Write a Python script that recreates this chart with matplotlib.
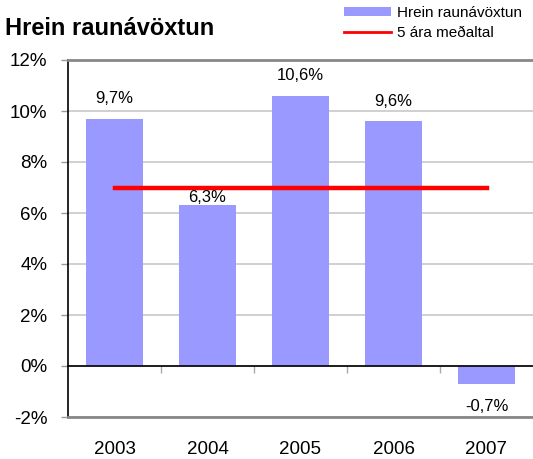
import matplotlib
matplotlib.use("Agg")
from matplotlib import pyplot as plt
from matplotlib.patches import Patch
from matplotlib.lines import Line2D

plt.rcParams['font.family'] = ['Liberation Sans', 'DejaVu Sans']

# data
years = ['2003', '2004', '2005', '2006', '2007']
returns = [9.7, 6.3, 10.6, 9.6, -0.7]
avg_5yr = [7.0, 7.0, 7.0, 7.0, 7.0]
value_labels = ['9,7%', '6,3%', '10,6%', '9,6%', '-0,7%']
yticks = [-2, 0, 2, 4, 6, 8, 10, 12]

bar_color = '#9999FF'
grid_color = '#C8C8C8'

fig = plt.figure(figsize=(5.33, 4.59), dpi=100)
ax = fig.add_axes([68 / 533, 42 / 459, 1 - 68 / 533, 357 / 459])

x = range(len(years))
ax.bar(x, returns, width=0.62, color=bar_color, zorder=2)
ax.plot(x, avg_5yr, color='#FF0000', lw=3.2, solid_capstyle='projecting', zorder=3)

# labels on the bars
for i, (v, lab) in enumerate(zip(returns, value_labels)):
    if v >= 0:
        dy = 0 if i == 1 else 9
        ax.annotate(lab, (i, v), xytext=(0, dy), textcoords='offset points',
                    ha='center', va='bottom', fontsize=12, zorder=4)
    else:
        ax.annotate(lab, (i, v), xytext=(0, -11), textcoords='offset points',
                    ha='center', va='top', fontsize=12, zorder=4)

ax.set_xlim(-0.5, 4.5)
ax.set_ylim(-2, 12)
ax.set_yticks(yticks)
ax.set_yticklabels([f'{t}%' for t in yticks], fontsize=13.5)
ax.yaxis.grid(True, color=grid_color, lw=1.2, zorder=0)
ax.tick_params(axis='y', length=5, width=1, color='#999999', pad=10)

ax.set_xticks(list(x))
ax.set_xticklabels(years, fontsize=13.5)
ax.tick_params(axis='x', length=0, pad=17)

ax.spines['right'].set_visible(False)
ax.spines['left'].set_color('black')
ax.spines['left'].set_linewidth(1.2)
ax.spines['top'].set_color('#888888')
ax.spines['top'].set_linewidth(2)
ax.spines['bottom'].set_color('#888888')
ax.spines['bottom'].set_linewidth(2)

# zero axis with category separators
sec = ax.secondary_xaxis(0, transform=ax.transData)
sec.set_xticks([0.5, 1.5, 2.5, 3.5])
sec.set_xticklabels([])
sec.tick_params(length=5, width=1, color='#AAAAAA', direction='out')
sec.spines['bottom'].set_color('black')
sec.spines['bottom'].set_linewidth(1.2)
sec.set_zorder(5)

fig.text(5 / 533, 1 - 35 / 459, 'Hrein raunávöxtun', fontsize=17,
         fontweight='bold', ha='left', va='baseline')

handles = [Patch(facecolor=bar_color, edgecolor='none'),
           Line2D([], [], color='#FF0000', lw=2)]
fig.legend(handles, ['Hrein raunávöxtun', '5 ára meðaltal'], loc='upper left',
           bbox_to_anchor=(344 / 533, 1 - 6 / 459), frameon=False, fontsize=11,
           handlelength=3.1, handleheight=0.55, handletextpad=0.35,
           labelspacing=0.4, borderpad=0, borderaxespad=0)

fig.savefig('out.png', dpi=100)
